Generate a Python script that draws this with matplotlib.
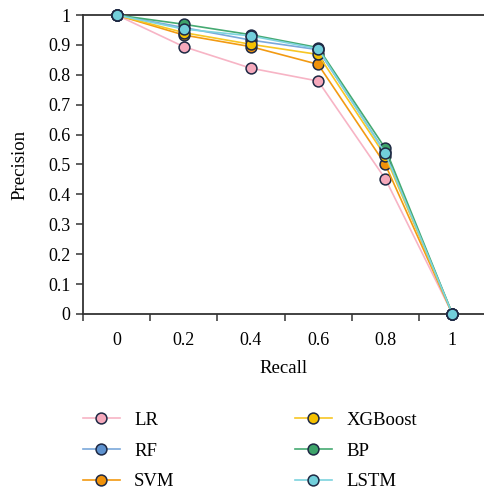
import matplotlib
matplotlib.use("Agg")
import matplotlib.pyplot as plt

recall_labels = ["0", "0.2", "0.4", "0.6", "0.8", "1"]
models = ["LR", "RF", "SVM", "XGBoost", "BP", "LSTM"]
lr = [1.0, 0.894, 0.822, 0.779, 0.452, 0.0]
rf = [1.0, 0.958, 0.916, 0.884, 0.540, 0.0]
svm = [1.0, 0.933, 0.894, 0.835, 0.500, 0.0]
xgb = [1.0, 0.941, 0.902, 0.868, 0.528, 0.0]
bp = [1.0, 0.969, 0.934, 0.891, 0.554, 0.0]
lstm = [1.0, 0.953, 0.930, 0.887, 0.537, 0.0]

series = [lr, rf, svm, xgb, bp, lstm]
line_colors = ["#F7B4C5", "#7AA8DA", "#F29A12", "#F7C624", "#45AA72", "#7DD3DE"]
face_colors = ["#F5A9BC", "#5E92CF", "#F0920A", "#F5C000", "#3DA36A", "#72CFDB"]
edge = "#1E2944"

plt.rcParams["font.family"] = ["Liberation Serif", "DejaVu Serif"]
fig = plt.figure(figsize=(4.84, 4.92), dpi=100)
ax = fig.add_axes([0.1715, 0.362, 0.8285, 0.6075])

x = list(range(len(recall_labels)))
for name, ys, lc, fc in zip(models, series, line_colors, face_colors):
    ax.plot(x, ys, color=lc, lw=1.2, marker="o", markersize=7.8,
            markerfacecolor=fc, markeredgecolor=edge, markeredgewidth=1.1,
            label=name, clip_on=False, zorder=3)

ax.set_xlim(-0.5, 5.47)
ax.set_ylim(0, 1)
ax.set_yticks([i / 10 for i in range(11)])
ax.set_yticklabels(["0", "0.1", "0.2", "0.3", "0.4", "0.5", "0.6", "0.7", "0.8", "0.9", "1"])
ax.set_xticks([i - 0.5 for i in range(6)])
ax.set_xticklabels([])
ax.set_xticks(x, minor=True)
ax.set_xticklabels(recall_labels, minor=True)
ax.tick_params(axis="x", which="minor", length=0, pad=13, labelsize=13)
ax.tick_params(axis="x", which="major", length=5, width=1.2, color="#444444")
ax.tick_params(axis="y", length=5, width=1.2, color="#444444", labelsize=13, pad=4)

for s in ["left", "bottom", "top"]:
    ax.spines[s].set_color("#333333")
    ax.spines[s].set_linewidth(1.3)
ax.spines["right"].set_visible(False)

ax.set_xlabel("Recall", fontsize=13.5, labelpad=8)
ax.set_ylabel("Precision", fontsize=13.5, labelpad=14)

leg = fig.legend(loc="upper left", bbox_to_anchor=(0.155, 0.178), ncol=2,
                 frameon=False, fontsize=13.5, handlelength=2.0,
                 handletextpad=0.75, columnspacing=6.4, labelspacing=0.72,
                 borderaxespad=0)

fig.savefig("out.png", dpi=100)
